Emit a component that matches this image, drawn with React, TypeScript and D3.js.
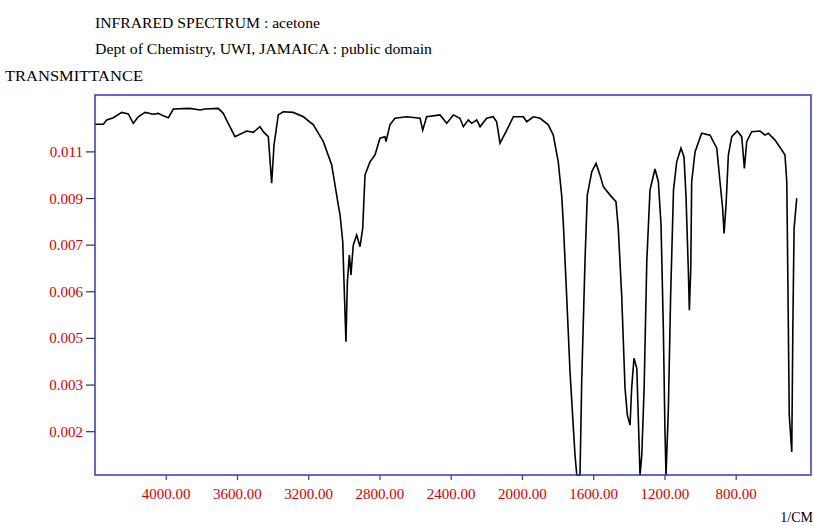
import React from "react";
import * as d3 from "d3";

const xTickValues = [4000, 3600, 3200, 2800, 2400, 2000, 1600, 1200, 800];
const xTickLabels = ["4000.00", "3600.00", "3200.00", "2800.00", "2400.00", "2000.00", "1600.00", "1200.00", "800.00"];
const yTickValues = [0.011, 0.0095, 0.008, 0.0065, 0.005, 0.0035, 0.002];
const yTickLabels = ["0.011", "0.009", "0.007", "0.006", "0.005", "0.003", "0.002"];

const wavenumber = [
  4400, 4353, 4334, 4297, 4250, 4213, 4185, 4157, 4119, 4073, 4045, 4017, 3988, 3960, 3867, 3810, 3782, 3708, 3680, 3652,
  3614, 3586, 3548, 3511, 3474, 3455, 3427, 3408, 3395, 3371, 3343, 3287, 3230, 3174, 3118, 3071, 3034, 3024, 3009, 3002,
  2991, 2983, 2972, 2963, 2950, 2931, 2912, 2897, 2884, 2856, 2828, 2800, 2772, 2766, 2744, 2716, 2650, 2575, 2560, 2538,
  2463, 2425, 2388, 2351, 2332, 2304, 2285, 2257, 2238, 2201, 2164, 2145, 2126, 2088, 2051, 1995, 1976, 1939, 1901, 1855,
  1827, 1799, 1780, 1771, 1752, 1733, 1714, 1705, 1695, 1677, 1667, 1649, 1636, 1611, 1587, 1565, 1546, 1508, 1475, 1462,
  1443, 1424, 1411, 1396, 1387, 1374, 1358, 1350, 1340, 1330, 1317, 1302, 1284, 1256, 1237, 1222, 1209, 1200, 1194, 1181,
  1168, 1152, 1134, 1110, 1093, 1082, 1069, 1063, 1055, 1050, 1031, 994, 947, 909, 891, 876, 868, 857, 844, 825,
  794, 769, 754, 741, 713, 666, 638, 620, 582, 544, 526, 516, 511, 502, 488, 482, 475, 460,
];
const transmittance = [
  0.01189, 0.01189, 0.01203, 0.0121, 0.01227, 0.01222, 0.01192, 0.01213, 0.01227, 0.01221, 0.01224, 0.01216, 0.0121, 0.01238, 0.0124, 0.01235, 0.01238, 0.0124, 0.01224, 0.01192,
  0.01149, 0.01157, 0.01167, 0.01163, 0.01181, 0.01165, 0.01149, 0.00999, 0.01122, 0.01219, 0.01229, 0.01227, 0.01213, 0.01187, 0.01133, 0.01058, 0.00929, 0.00897, 0.00811, 0.00682,
  0.00489, 0.00682, 0.00768, 0.00704, 0.008, 0.00833, 0.00795, 0.00854, 0.01026, 0.01068, 0.0109, 0.01144, 0.01149, 0.01133, 0.01187, 0.01208, 0.01213, 0.01208, 0.0117, 0.01213,
  0.01219, 0.01192, 0.01219, 0.01208, 0.01181, 0.01203, 0.01192, 0.01203, 0.01181, 0.01208, 0.01213, 0.01197, 0.01128, 0.0117, 0.01213, 0.01213, 0.01197, 0.01213, 0.01208, 0.01187,
  0.01154, 0.01068, 0.00961, 0.00875, 0.00639, 0.00393, 0.0021, 0.00125, 0.0006, 0.0006, 0.00371, 0.00747, 0.00961, 0.01036, 0.01063, 0.01026, 0.00988, 0.00961, 0.0094, 0.00854,
  0.00639, 0.00339, 0.00253, 0.00221, 0.00339, 0.00436, 0.00404, 0.00253, 0.0006, 0.00125, 0.00339, 0.00747, 0.00977, 0.01045, 0.01004, 0.00865, 0.00532, 0.00205, 0.0006, 0.00269,
  0.00639, 0.00977, 0.01068, 0.01112, 0.01084, 0.00961, 0.00725, 0.00591, 0.00725, 0.01004, 0.011, 0.0116, 0.01154, 0.01112, 0.01004, 0.00918, 0.00838, 0.00929, 0.0109, 0.01149,
  0.01167, 0.01149, 0.01047, 0.01133, 0.01165, 0.01167, 0.01154, 0.0116, 0.01138, 0.01106, 0.0109, 0.01004, 0.00747, 0.00253, 0.00135, 0.00532, 0.00854, 0.00951,
];

const W = 814;
const H = 526;
const left = 95;
const right = 811;
const top = 95;
const bottom = 475;
const serif = "'Liberation Serif', 'Times New Roman', serif";
const red = "#d40000";
const blue = "#3434c8";

export default function App() {
  const x = d3.scaleLinear().domain([4400, 380]).range([left, right]);
  const y = d3.scaleLinear().domain([0.000607, 0.01283]).range([bottom, top]);
  const pts: [number, number][] = wavenumber.map((w, i) => [w, transmittance[i]]);
  const line = d3
    .line<[number, number]>()
    .x((d) => x(d[0]))
    .y((d) => y(d[1]));

  return (
    <svg width={W} height={H} style={{ position: "absolute", left: 0, top: 0, background: "#fff" }}>
      <text x={95} y={28} fontFamily={serif} fontSize={14} textLength={225} lengthAdjust="spacingAndGlyphs" fill="#000">
        INFRARED SPECTRUM : acetone
      </text>
      <text x={95} y={54} fontFamily={serif} fontSize={14} textLength={337} lengthAdjust="spacingAndGlyphs" fill="#000">
        Dept of Chemistry, UWI, JAMAICA : public domain
      </text>
      <text x={5} y={81} fontFamily={serif} fontSize={14} textLength={138} lengthAdjust="spacingAndGlyphs" fill="#000">
        TRANSMITTANCE
      </text>

      {yTickValues.map((v, i) => (
        <g key={"y" + i}>
          <line x1={86} x2={left} y1={y(v)} y2={y(v)} stroke="#333" strokeWidth={1.2} />
          <text x={83} y={y(v) + 5} textAnchor="end" fontFamily={serif} fontSize={15} fill={red}>
            {yTickLabels[i]}
          </text>
        </g>
      ))}

      {xTickValues.map((v, i) => (
        <g key={"x" + i}>
          <line x1={x(v)} x2={x(v)} y1={bottom} y2={bottom + 5} stroke={blue} strokeWidth={1.2} />
          <text x={x(v)} y={499} textAnchor="middle" fontFamily={serif} fontSize={15} fill={red}>
            {xTickLabels[i]}
          </text>
        </g>
      ))}

      <text x={813} y={522} textAnchor="end" fontFamily={serif} fontSize={14} fill="#000">
        1/CM
      </text>

      <path d={line(pts) || ""} fill="none" stroke="#000" strokeWidth={1.6} strokeLinejoin="miter" />

      <rect x={left} y={top} width={right - left} height={bottom - top} fill="none" stroke={blue} strokeWidth={1.5} />
    </svg>
  );
}
